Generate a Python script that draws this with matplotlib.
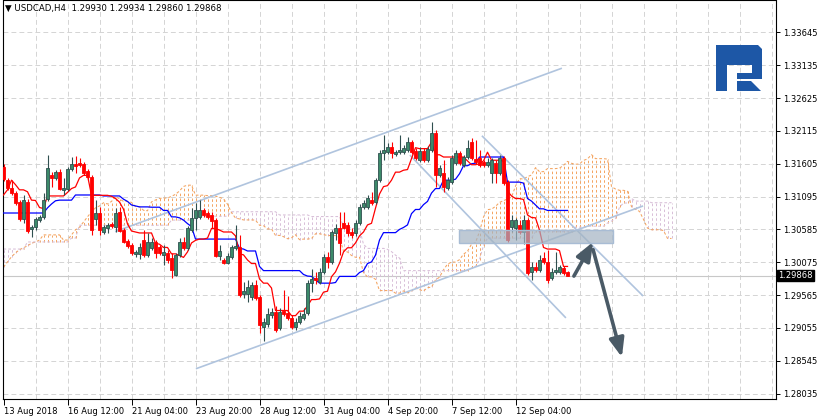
import numpy as np
import pandas as pd
import matplotlib
matplotlib.use("Agg")
import matplotlib.pyplot as plt
from matplotlib.patches import Rectangle, Polygon, FancyArrowPatch

# ---------------- data (USDCAD H4) ----------------
opens = [1.3156,1.3135,1.3123,1.3115,1.3101,1.3075,1.3101,1.3059,1.3062,1.3073,
         1.3078,1.3106,1.3143,1.3138,1.3148,1.3120,1.3121,1.3152,1.3160,1.3162,
         1.3160,1.3149,1.3140,1.3075,1.3084,1.3054,1.3061,1.3067,1.3062,1.3086,
         1.3058,1.3040,1.3034,1.3020,1.3020,1.3042,1.3019,1.3030,1.3039,1.3031,
         1.3019,1.3022,1.3014,1.2988,1.3019,1.3039,1.3030,1.3058,1.3076,1.3078,
         1.3089,1.3084,1.3081,1.3073,1.3017,1.3011,1.3006,1.3016,1.3030,1.3031,
         1.2958,1.2958,1.2954,1.2972,1.2954,1.2907,1.2912,1.2926,1.2930,1.2905,
         1.2932,1.2929,1.2921,1.2907,1.2915,1.2921,1.2929,1.2975,1.2983,1.2977,
         1.2992,1.3016,1.3008,1.3053,1.3061,1.3068,1.3065,1.3054,1.3053,1.3068,
         1.3093,1.3093,1.3104,1.3101,1.3135,1.3177,1.3179,1.3187,1.3176,1.3179,
         1.3179,1.3182,1.3194,1.3180,1.3166,1.3180,1.3166,1.3182,1.3208,1.3143,
         1.3146,1.3123,1.3132,1.3162,1.3177,1.3159,1.3171,1.3194,1.3168,1.3170,
         1.3163,1.3159,1.3146,1.3162,1.3146,1.3170,1.3132,1.3062,1.3061,1.3065,
         1.3054,1.3073,1.2992,1.3000,1.2995,1.3014,1.3008,1.2983,1.2992,1.2992,
         1.2999,1.29930]
highs = [1.3160,1.3138,1.3135,1.3118,1.3104,1.3112,1.3106,1.3065,1.3078,1.3081,
         1.3115,1.3174,1.3148,1.3151,1.3152,1.3138,1.3156,1.3171,1.3173,1.3170,
         1.3163,1.3152,1.3143,1.3104,1.3093,1.3065,1.3068,1.3070,1.3092,1.3093,
         1.3061,1.3044,1.3037,1.3027,1.3037,1.3058,1.3053,1.3045,1.3042,1.3034,
         1.3034,1.3027,1.3022,1.3022,1.3045,1.3047,1.3064,1.3092,1.3100,1.3104,
         1.3092,1.3087,1.3086,1.3076,1.3034,1.3014,1.3022,1.3034,1.3065,1.3050,
         1.2977,1.2980,1.2977,1.2980,1.2957,1.2921,1.2936,1.2936,1.2940,1.2936,
         1.2964,1.2955,1.2926,1.2921,1.2930,1.2936,1.2980,1.2997,1.2992,1.2999,
         1.3020,1.3023,1.3058,1.3067,1.3086,1.3086,1.3070,1.3061,1.3073,1.3098,
         1.3104,1.3112,1.3117,1.3138,1.3182,1.3205,1.3193,1.3194,1.3182,1.3205,
         1.3190,1.3202,1.3197,1.3185,1.3187,1.3185,1.3188,1.3225,1.3213,1.3159,
         1.3166,1.3140,1.3174,1.3182,1.3180,1.3174,1.3197,1.3201,1.3197,1.3182,
         1.3166,1.3170,1.3170,1.3166,1.3174,1.3173,1.3135,1.3081,1.3076,1.3073,
         1.3081,1.3076,1.3008,1.3008,1.3019,1.3023,1.3027,1.2999,1.3023,1.3003,
         1.3002,1.29934]
lows = [1.3134,1.3120,1.3112,1.3096,1.3072,1.3068,1.3053,1.3047,1.3058,1.3070,
        1.3075,1.3103,1.3124,1.3135,1.3120,1.3112,1.3118,1.3149,1.3146,1.3156,
        1.3143,1.3135,1.3050,1.3065,1.3050,1.3051,1.3053,1.3061,1.3054,1.3054,
        1.3037,1.3030,1.3019,1.3016,1.3013,1.3016,1.3016,1.3027,1.3014,1.3019,
        1.3003,1.3006,1.2983,1.2986,1.3016,1.3027,1.3027,1.3054,1.3058,1.3075,
        1.3078,1.3075,1.3061,1.3016,1.3011,1.3005,1.3005,1.3013,1.3027,1.2954,
        1.2952,1.2946,1.2949,1.2949,1.2898,1.2885,1.2907,1.2921,1.2899,1.2902,
        1.2924,1.2918,1.2904,1.2902,1.2912,1.2918,1.2926,1.2961,1.2974,1.2974,
        1.2989,1.2999,1.3005,1.3042,1.3019,1.3059,1.3048,1.3045,1.3048,1.3065,
        1.3090,1.3090,1.3096,1.3098,1.3132,1.3166,1.3176,1.3170,1.3173,1.3176,
        1.3176,1.3179,1.3176,1.3166,1.3163,1.3163,1.3163,1.3179,1.3124,1.3140,
        1.3117,1.3120,1.3129,1.3159,1.3159,1.3156,1.3168,1.3166,1.3160,1.3156,
        1.3156,1.3156,1.3131,1.3131,1.3143,1.3128,1.3039,1.3054,1.3042,1.3051,
        1.3036,1.2988,1.2980,1.2992,1.2992,1.3005,1.2975,1.2980,1.2989,1.2989,
        1.2988,1.29860]
closes = [1.3137,1.3123,1.3115,1.3100,1.3075,1.3104,1.3056,1.3062,1.3075,1.3078,
          1.3104,1.3154,1.3138,1.3148,1.3121,1.3123,1.3152,1.3160,1.3157,1.3159,
          1.3146,1.3140,1.3058,1.3084,1.3058,1.3062,1.3065,1.3064,1.3084,1.3056,
          1.3039,1.3033,1.3022,1.3023,1.3031,1.3019,1.3039,1.3039,1.3022,1.3022,
          1.3023,1.3011,1.2995,1.3019,1.3039,1.3030,1.3061,1.3076,1.3089,1.3089,
          1.3081,1.3078,1.3072,1.3017,1.3025,1.3006,1.3017,1.3031,1.3033,1.2957,
          1.2963,1.2969,1.2972,1.2952,1.2910,1.2915,1.2927,1.2930,1.2902,1.2930,
          1.2927,1.2921,1.2907,1.2915,1.2924,1.2927,1.2975,1.2982,1.2980,1.2992,
          1.3016,1.3008,1.3054,1.3061,1.3037,1.3061,1.3053,1.3050,1.3068,1.3093,
          1.3100,1.3107,1.3100,1.3135,1.3177,1.3182,1.3187,1.3177,1.3179,1.3182,
          1.3185,1.3194,1.3179,1.3170,1.3180,1.3166,1.3184,1.3208,1.3143,1.3154,
          1.3124,1.3135,1.3170,1.3177,1.3162,1.3171,1.3185,1.3170,1.3163,1.3159,
          1.3159,1.3163,1.3166,1.3146,1.3170,1.3131,1.3042,1.3073,1.3073,1.3054,
          1.3073,1.2991,1.3000,1.2995,1.3011,1.3008,1.2980,1.2992,1.2995,1.3000,
          1.2991,1.29868]

# Ichimoku values before the window is full
tenkan_head = [1.3112,1.3120,1.3135,1.3128,1.3120,1.3120,1.3117,1.3104]
kijun_head = [1.3084]*11 + [1.3092,1.3098,1.3103] + [1.3104]*4 + [1.3112]*7
span_a_head = [1.3000,1.3008,1.3016,1.3022,1.3027,1.3030,1.3033,1.3037,1.3039,1.3042,
               1.3050,1.3050,1.3050,1.3050,1.3050,1.3042,1.3042,1.3050,1.3058,1.3062,
               1.3070,1.3078,1.3086,1.3092,1.3095,1.3100]
span_b_head = ([1.3028]*6 + [1.3039]*11 + [1.3045]*2 + [1.3065]*23 + [1.3073]*7
               + [1.3079]*8 + [1.3086]*12 + [1.3081]*8)

price_ticks = [1.33645,1.33135,1.32625,1.32115,1.31605,1.31095,1.30585,
               1.30075,1.29565,1.29055,1.28545,1.28035]
date_labels = ["13 Aug 2018","16 Aug 12:00","21 Aug 04:00","23 Aug 20:00",
               "28 Aug 12:00","31 Aug 04:00","4 Sep 20:00","7 Sep 12:00","12 Sep 04:00"]
last_price = 1.29868

# analysis drawings (bar index, price)
channel_upper = ([27.9, 139.6], [1.3055, 1.3309])
channel_lower = ([48.1, 159.9], [1.2842, 1.3095])
desc_upper = ([119.6, 159.9], [1.3204, 1.2955])
desc_lower = ([101.6, 140.6], [1.3174, 1.2921])
zone_bars = (113.9, 152.4)
zone_prices = (1.3037, 1.3058)
arrow_up = ((142.6, 1.2986), (147.4, 1.3039))
arrow_down = ((147.4, 1.3027), (154.6, 1.2860))

# ---------------- figure ----------------
W, H_ = 819, 419
fig = plt.figure(figsize=(W/100, H_/100), dpi=100)
fig.patch.set_facecolor("white")
ax = fig.add_axes([2.5/W, 20/H_, (776-2.5)/W, (399-0.5)/H_])
ax.set_xlim(-0.25, 193.125)
ax.set_ylim(1.27950, 1.34142)

n = len(closes)
x = np.arange(n)
Hs = pd.Series(highs); Ls = pd.Series(lows)
tenkan = ((Hs.rolling(9, min_periods=1).max() + Ls.rolling(9, min_periods=1).min())/2).to_numpy()
tenkan[:len(tenkan_head)] = tenkan_head
kijun = ((Hs.rolling(26, min_periods=1).max() + Ls.rolling(26, min_periods=1).min())/2).to_numpy()
kijun[:len(kijun_head)] = kijun_head
mid52 = ((Hs.rolling(52, min_periods=1).max() + Ls.rolling(52, min_periods=1).min())/2).to_numpy()
span_a = np.empty(n+26); span_a[:26] = span_a_head; span_a[26:] = (tenkan + kijun)/2
span_b = np.empty(n+26); span_b[:77] = span_b_head; span_b[77:] = mid52[51:]
xc = np.arange(n+26)

# grid
grid_c = "#d4d4d4"
for p in price_ticks:
    ax.axhline(p, color=grid_c, lw=0.7, ls=(0, (5, 3.2)), zorder=0)
for b in range(8, 194, 8):
    ax.axvline(b, color=grid_c, lw=0.7, ls=(0, (5, 3.2)), zorder=0)
ax.axhline(last_price, color="#c8c8c8", lw=0.8, zorder=0.5)

# cloud
cols = ["#F4A460" if a >= b else "#D8BFD8" for a, b in zip(span_a, span_b)]
ax.vlines(xc, np.minimum(span_a, span_b), np.maximum(span_a, span_b), colors=cols,
          lw=0.7, linestyles=(0, (2.6, 2.4)), zorder=1)
ax.plot(xc, span_a, color="#F4A460", lw=0.75, ls=(0, (2.6, 2.0)), zorder=1.2)
ax.plot(xc, span_b, color="#D8BFD8", lw=0.75, ls=(0, (2.6, 2.0)), zorder=1.2)

# trend lines
tl_c = "#b0c4de"
for ln in (channel_upper, channel_lower, desc_upper, desc_lower):
    ax.plot(ln[0], ln[1], color=tl_c, lw=1.2, zorder=2, solid_capstyle="butt")

# tenkan / kijun
ax.plot(x, kijun, color="#0000ff", lw=0.9, zorder=3)
ax.plot(x, tenkan, color="#ff0000", lw=0.9, zorder=3)

# candles
bull_face, bull_edge = "#3c8a6a", "#2f4f4f"
for i in range(n):
    o, h, l, c = opens[i], highs[i], lows[i], closes[i]
    up = c >= o
    wc = bull_edge if up else "#ff0000"
    ax.plot([i, i], [l, h], color=wc, lw=0.8, zorder=4, solid_capstyle="butt")
    lo, hi = min(o, c), max(o, c)
    hgt = max(hi - lo, 0.00004)
    ax.add_patch(Rectangle((i - 0.28, lo), 0.56, hgt,
                           facecolor=bull_face if up else "#ff0000",
                           edgecolor=bull_edge if up else "#ff0000",
                           lw=0.6, zorder=4.5))

# zone rectangle
ax.add_patch(Rectangle((zone_bars[0], zone_prices[0]), zone_bars[1]-zone_bars[0],
                       zone_prices[1]-zone_prices[0], facecolor=(0.64, 0.70, 0.76, 0.7),
                       edgecolor="#a8bcd4", lw=1.0, zorder=5))

# arrows
for (p0, p1) in (arrow_up, arrow_down):
    ax.add_patch(FancyArrowPatch(p0, p1, arrowstyle="-|>,head_length=0.8,head_width=0.32",
                                 mutation_scale=14, lw=2.6, color="#4a5a66",
                                 shrinkA=0, shrinkB=0, zorder=6))

# axes styling
for s in ax.spines.values():
    s.set_color("black"); s.set_linewidth(0.8)
ax.yaxis.tick_right()
ax.set_yticks(price_ticks)
ax.set_yticklabels([f"{p:.5f}" for p in price_ticks])
ax.tick_params(axis="y", direction="out", length=3, width=0.7, pad=2, labelsize=6,
               colors="black")
ax.set_xticks(list(range(0, 16*len(date_labels), 16)))
ax.set_xticklabels(date_labels)
ax.tick_params(axis="x", direction="out", length=4, width=0.7, pad=2, labelsize=6)
for t in ax.get_xticklabels():
    t.set_horizontalalignment("left")

# current price label
ax.text(1.003, last_price, "1.29868", transform=ax.get_yaxis_transform(),
        color="white", fontsize=6, va="center", ha="left", zorder=10,
        bbox=dict(boxstyle="square,pad=0.15", facecolor="black", edgecolor="black"))

# title
fig.text(5/W, 1-8/H_, "\u25bc USDCAD,H4  1.29930 1.29934 1.29860 1.29868",
         fontsize=6.2, va="center", ha="left", color="black")

# logo
def px(pts):
    return [(a/W, 1-b/H_) for a, b in pts]
logo_c = "#1d57a6"
fig.patches.append(Polygon(px([(716,45),(758,45),(762,49),(762,79),(737,79),(737,73),
                               (752,73),(752,65),(727,65),(727,91),(716,91)]),
                           closed=True, transform=fig.transFigure, facecolor=logo_c,
                           edgecolor="none", zorder=20))
fig.patches.append(Polygon(px([(737,81),(751,81),(761,91),(737,91)]), closed=True,
                           transform=fig.transFigure, facecolor=logo_c,
                           edgecolor="none", zorder=20))

fig.savefig("out.png", dpi=100)
